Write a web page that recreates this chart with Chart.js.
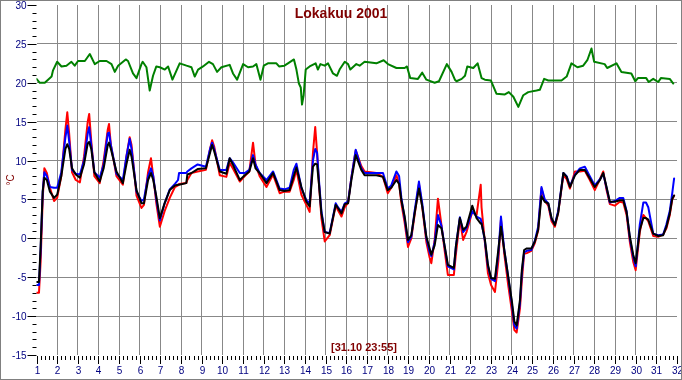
<!DOCTYPE html>
<html><head><meta charset="utf-8">
<script src="https://cdn.jsdelivr.net/npm/chart.js@4/dist/chart.umd.min.js"></script>
<style>html,body{margin:0;padding:0;background:#fff}canvas{display:block}</style>
</head><body>
<canvas id="c" width="682" height="380"></canvas>
<script>
// Time (days of October) shared by the three temperature series
const days = [1.00,1.12,1.20,1.30,1.38,1.50,1.65,1.85,2.00,2.20,2.40,2.49,2.58,2.72,2.90,3.10,3.30,3.48,3.55,3.65,3.80,4.06,4.25,4.45,4.51,4.60,4.87,5.18,5.35,5.51,5.60,5.84,6.08,6.20,6.40,6.54,6.65,6.80,6.97,7.20,7.45,7.70,7.85,7.90,8.25,8.30,8.50,8.80,9.20,9.40,9.50,9.60,9.87,10.19,10.35,10.50,10.84,11.08,11.30,11.48,11.60,11.80,12.13,12.45,12.77,13.00,13.25,13.45,13.58,13.82,14.06,14.22,14.38,14.49,14.58,14.67,14.79,14.95,15.19,15.48,15.59,15.76,15.92,16.08,16.24,16.45,16.72,16.88,17.45,17.77,18.00,18.17,18.42,18.55,18.66,18.82,18.98,19.14,19.30,19.51,19.67,19.87,20.03,20.11,20.27,20.43,20.60,20.75,20.91,21.20,21.30,21.49,21.65,21.81,22.09,22.30,22.50,22.54,22.70,22.85,23.00,23.19,23.35,23.48,23.64,23.83,24.00,24.13,24.24,24.40,24.49,24.60,24.73,24.95,25.12,25.28,25.44,25.60,25.77,25.93,26.09,26.25,26.50,26.66,26.82,27.06,27.30,27.54,27.78,28.02,28.27,28.43,28.59,28.75,28.99,29.23,29.40,29.56,29.72,29.88,30.00,30.20,30.37,30.50,30.61,30.85,31.09,31.33,31.49,31.65,31.77,31.86];
const blackT = [-5.6,-5.6,-1.0,6.0,7.8,7.5,6.0,5.2,5.6,8.0,11.5,12.1,11.5,9.0,8.2,7.8,9.5,12.2,12.4,11.5,8.5,7.3,9.0,12.0,12.3,11.5,8.6,7.1,9.5,11.4,10.5,6.2,4.5,4.5,7.5,8.4,7.5,5.4,2.6,4.5,6.2,6.8,6.9,6.9,7.1,8.2,8.4,8.9,9.0,11.0,12.0,11.2,8.6,8.3,10.3,9.5,7.5,8.1,8.6,10.3,9.0,8.4,7.1,8.4,6.2,6.1,6.2,8.0,9.1,6.6,4.7,4.1,9.2,9.6,9.5,7.0,3.2,0.8,0.6,4.3,3.9,3.2,4.4,4.5,7.5,10.7,8.8,8.1,8.1,7.9,6.2,6.5,7.5,7.0,4.9,2.8,-0.2,0.4,3.2,6.4,4.1,0.2,-1.3,-2.1,-0.9,1.7,1.3,-0.9,-3.4,-3.8,-1.0,2.6,1.1,1.5,4.2,2.6,1.9,1.9,-0.1,-3.4,-5.1,-5.2,-1.5,1.5,-1.5,-4.9,-7.9,-10.7,-11.2,-7.9,-4.1,-1.5,-1.3,-1.3,-0.4,1.1,5.4,4.7,4.5,2.6,1.7,3.3,8.4,7.9,6.6,8.1,8.8,8.8,7.7,6.6,7.5,8.4,6.6,4.7,4.7,4.9,4.9,3.4,0.2,-2.1,-3.2,1.1,2.6,2.6,2.4,0.6,0.3,0.4,1.5,3.2,5.1,5.5];
const blueT = [-6.0,-6.0,-1.5,6.0,8.5,8.0,6.6,6.5,6.5,8.5,13.0,14.5,12.5,8.8,8.3,8.2,10.0,13.5,14.3,12.0,8.5,7.8,9.5,13.5,13.6,12.0,8.3,7.5,10.5,12.8,11.5,6.0,4.8,5.0,8.0,9.0,8.0,5.0,2.3,4.5,6.3,7.0,7.5,8.4,8.4,8.6,9.0,9.5,9.2,11.5,12.3,11.5,8.8,8.8,10.3,9.8,8.4,8.4,8.8,10.7,9.5,8.4,7.5,8.6,6.4,6.3,6.5,8.8,9.6,6.5,4.9,4.5,10.0,11.5,11.0,7.5,3.5,0.8,0.7,4.5,4.0,3.4,4.5,4.7,7.8,11.4,9.0,8.4,8.4,8.4,6.4,6.8,8.6,8.0,5.2,2.5,-0.5,0.2,3.5,7.3,4.5,0.0,-1.8,-2.3,-0.5,3.0,1.6,-1.0,-3.6,-4.0,-1.0,2.7,0.8,1.3,3.5,2.8,2.5,2.0,-0.3,-3.6,-5.2,-5.5,-2.0,2.8,-1.5,-5.0,-8.3,-11.2,-11.6,-8.3,-4.5,-1.8,-1.6,-1.5,-0.3,1.5,6.6,5.0,4.5,2.5,1.8,3.5,8.4,8.0,6.7,8.2,9.0,9.2,8.0,6.8,7.6,8.3,6.5,4.6,4.8,5.2,5.2,3.5,0.0,-2.4,-3.6,1.8,4.6,4.6,4.0,0.6,0.4,0.5,1.8,3.5,5.8,7.7];
const redT = [-7.0,-7.0,-3.0,5.0,9.0,8.4,6.5,4.8,5.2,8.0,14.0,16.2,13.5,8.5,7.5,7.2,10.5,15.0,16.0,12.5,8.0,7.1,10.0,14.0,14.7,12.0,8.0,6.9,10.5,13.0,12.0,5.5,3.9,4.3,8.5,10.3,8.0,4.5,1.5,3.5,5.2,6.6,6.8,7.0,7.1,7.5,8.4,8.6,8.8,11.5,12.6,11.8,8.1,7.9,9.7,9.0,7.3,8.0,8.6,12.3,9.5,8.0,6.6,8.2,5.8,6.0,6.0,7.5,8.8,5.6,4.3,3.4,11.0,14.3,11.0,7.1,2.6,-0.4,0.4,4.2,3.6,2.8,4.0,4.6,7.8,11.3,9.3,8.6,8.4,7.9,5.8,6.5,8.1,7.0,4.5,2.0,-1.1,0.0,3.0,7.0,4.0,-0.5,-2.5,-3.2,-0.2,5.1,1.7,-1.5,-4.7,-4.7,-2.0,2.4,-0.2,0.8,3.4,3.0,6.9,4.0,-0.5,-4.5,-6.0,-6.9,-3.0,2.4,-2.0,-6.0,-9.2,-11.8,-12.1,-9.0,-5.5,-2.0,-1.9,-1.6,-0.6,1.0,6.4,4.8,4.2,2.2,1.5,3.3,8.1,7.6,6.4,8.6,8.6,8.7,7.5,6.2,7.6,8.6,6.2,4.4,4.2,4.7,4.6,3.0,-0.5,-3.0,-4.1,0.8,3.0,2.6,2.2,0.3,0.2,0.5,1.3,3.0,5.0,5.5];
// Green series (own time base)
const greenDays = [1.00,1.16,1.40,1.56,1.73,1.80,2.00,2.21,2.45,2.69,2.85,3.01,3.34,3.58,3.82,4.06,4.39,4.63,4.79,4.95,5.32,5.43,5.67,5.84,6.08,6.14,6.32,6.48,6.64,6.80,6.97,7.21,7.37,7.58,7.93,8.26,8.50,8.66,8.82,9.06,9.35,9.54,9.74,9.95,10.35,10.51,10.71,11.00,11.24,11.48,11.64,11.84,12.00,12.20,12.61,12.74,13.00,13.17,13.46,13.58,13.70,13.79,13.85,13.93,14.03,14.22,14.51,14.62,14.74,14.95,15.11,15.35,15.54,15.67,15.92,16.08,16.19,16.48,16.64,16.88,17.45,17.80,18.01,18.42,18.82,18.93,19.09,19.46,19.67,19.87,20.27,20.48,20.86,21.09,21.25,21.33,21.58,21.74,21.85,22.14,22.35,22.54,22.70,22.99,23.26,23.67,23.86,24.08,24.32,24.56,24.80,25.20,25.36,25.57,25.77,26.41,26.66,26.89,27.18,27.46,27.66,27.86,27.99,28.50,28.62,29.07,29.31,29.79,29.98,30.11,30.51,30.63,30.85,31.09,31.22,31.65,31.82];
const green = [20.5,20.0,20.0,20.4,20.8,21.6,22.7,22.1,22.2,22.7,22.2,22.8,22.8,23.7,22.4,22.8,22.8,22.4,21.4,22.2,23.0,22.8,21.2,20.6,22.4,22.7,22.0,19.0,20.9,22.1,22.0,21.7,22.1,20.4,22.5,22.2,22.0,20.8,21.7,22.1,22.7,22.4,21.4,22.0,22.3,21.2,20.4,22.4,22.0,22.1,22.4,20.4,22.2,22.5,22.5,22.1,22.2,22.5,23.0,21.7,19.9,19.4,17.2,18.4,21.7,22.1,22.5,21.7,22.4,22.2,22.5,21.2,20.9,21.7,22.7,22.4,21.7,22.4,22.2,22.7,22.5,22.9,22.4,21.9,21.9,22.1,20.6,20.5,21.3,20.4,20.0,20.2,22.4,21.4,20.4,20.2,20.5,20.9,22.1,21.9,22.5,20.6,20.4,20.3,18.6,18.5,18.8,18.2,16.9,18.4,18.8,19.0,19.1,20.5,20.3,20.3,20.8,22.5,22.0,22.2,22.9,24.4,22.7,22.4,21.9,22.5,21.4,21.2,20.2,20.6,20.6,20.1,20.5,20.1,20.6,20.5,19.9];
const xTickLabels = Array.from({length: 32}, (_, i) => String(i + 1));
const yTickLabels = ['-15','-10','-5','0','5','10','15','20','25','30'];
const titleText = 'Lokakuu 2001';
const stampText = '[31.10 23:55]';
const unitText = '°C';

const pts = (xs, ys) => xs.map((x, i) => ({x, y: ys[i]}));
const FONT = '"Liberation Sans", Arial, sans-serif';
const GRID = '#888888';

const deco = {
  id: 'deco',
  beforeDraw(chart) {
    const c = chart.ctx;
    c.save();
    c.fillStyle = '#fff';
    c.fillRect(0, 0, chart.width, chart.height);
    c.restore();
  },
  afterDraw(chart) {
    const c = chart.ctx, a = chart.chartArea;
    const xs = chart.scales.x, ys = chart.scales.y;
    c.save();
    c.strokeStyle = '#000'; c.lineWidth = 1;
    c.beginPath();
    for (let v = -15; v <= 30; v++) {
      const y = Math.round(ys.getPixelForValue(v)) + 0.5;
      const len = v % 5 === 0 ? 9 : 4;
      c.moveTo(a.left - len, y); c.lineTo(a.left, y);
    }
    for (let i = 0; i <= 155; i++) {
      const v = 1 + i / 5;
      const x = Math.round(xs.getPixelForValue(v)) + 0.5;
      const len = i % 5 === 0 ? 8 : 4;
      c.moveTo(x, a.bottom + 1); c.lineTo(x, a.bottom + 1 + len);
    }
    c.stroke();
    // tick labels
    c.fillStyle = '#000080';
    c.font = '10px ' + FONT;
    c.textBaseline = 'alphabetic';
    c.textAlign = 'right';
    yTickLabels.forEach(t => {
      c.fillText(t, a.left - 10, Math.round(ys.getPixelForValue(Number(t))) + 4);
    });
    c.textAlign = 'center';
    xTickLabels.forEach(t => {
      c.fillText(t, Math.round(xs.getPixelForValue(Number(t))) + 0.5, 374);
    });
    // frame
    c.strokeStyle = '#808080';
    c.strokeRect(0.5, 0.5, chart.width - 1, chart.height - 1);
    // texts
    c.fillStyle = '#800000';
    c.textAlign = 'center'; c.textBaseline = 'alphabetic';
    c.font = 'bold 14px ' + FONT;
    c.fillText(titleText, 341, 18);
    c.font = 'bold 11px ' + FONT;
    c.fillText(stampText, 364, 351);
    c.translate(11, 180); c.rotate(-Math.PI / 2);
    c.font = '10px ' + FONT; c.textBaseline = 'middle';
    c.fillText(unitText, 0, 0);
    c.restore();
  }
};

const ds = (label, xs, ys, color) => ({
  label, data: pts(xs, ys), borderColor: color, backgroundColor: color,
  borderWidth: 2, pointRadius: 0, tension: 0, fill: false,
  borderJoinStyle: 'round', borderCapStyle: 'round'
});

new Chart(document.getElementById('c'), {
  type: 'line',
  data: {
    // Chart.js paints the first dataset on top
    datasets: [
      ds('black', days, blackT, '#000000'),
      ds('blue', days, blueT, '#0000ff'),
      ds('red', days, redT, '#ff0000'),
      ds('green', greenDays, green, '#008000')
    ]
  },
  options: {
    responsive: false, animation: false, events: [],
    layout: { padding: { left: 0, right: 5, top: 5, bottom: 0 }, autoPadding: false },
    plugins: { legend: { display: false }, tooltip: { enabled: false }, title: { display: false } },
    scales: {
      x: {
        type: 'linear', min: 1, max: 32,
        afterFit: s => { s.height = 25; },
        border: { display: false },
        grid: {
          drawTicks: false,
          color: ctx => (ctx.tick && (ctx.tick.value === 1 || ctx.tick.value === 32)) ? 'rgba(0,0,0,0)' : GRID,
          lineWidth: 1
        },
        ticks: { stepSize: 1, autoSkip: false, display: false }
      },
      y: {
        min: -15, max: 30,
        afterFit: s => { s.width = 36.5; },
        border: { display: false },
        grid: {
          drawTicks: false,
          color: ctx => (ctx.tick && (ctx.tick.value === -15 || ctx.tick.value === 30)) ? 'rgba(0,0,0,0)' : GRID,
          lineWidth: 1
        },
        ticks: { stepSize: 5, display: false }
      }
    }
  },
  plugins: [deco]
});
</script>
</body></html>
